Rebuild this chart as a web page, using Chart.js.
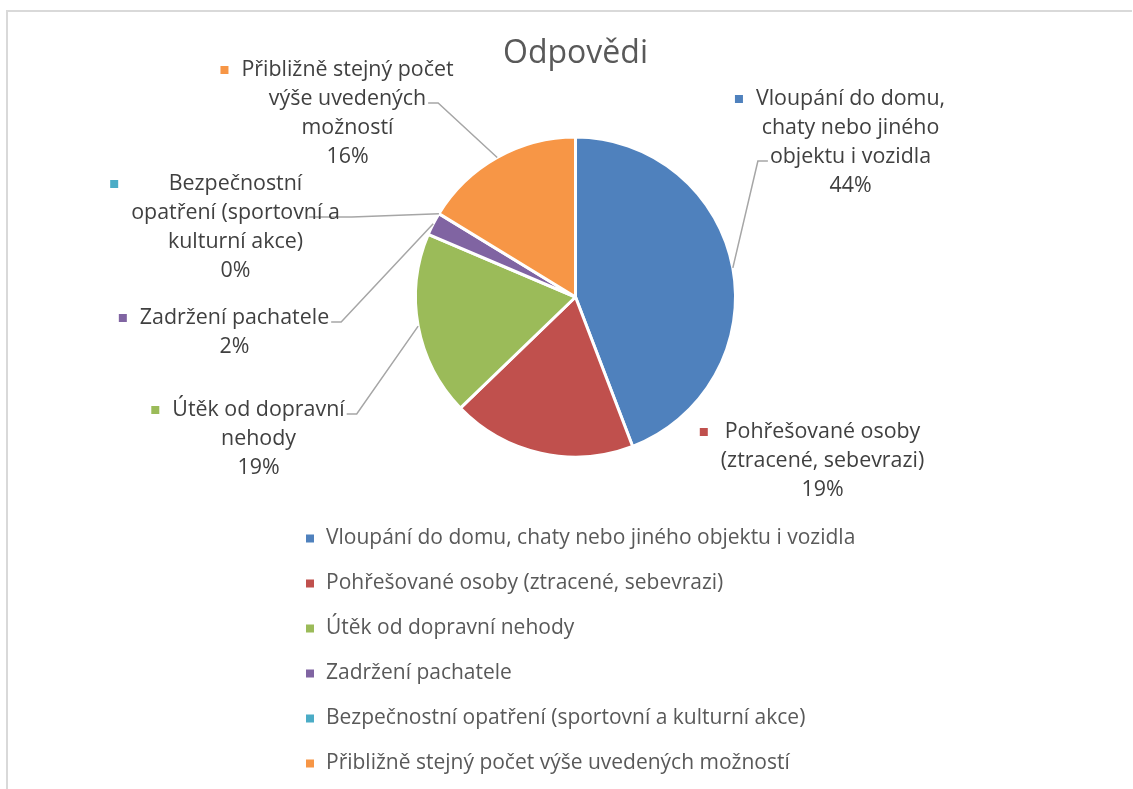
<!DOCTYPE html>
<html>
<head>
<meta charset="utf-8">
<script src="https://cdn.jsdelivr.net/npm/chart.js@4/dist/chart.umd.min.js"></script>
<style>
html,body{margin:0;padding:0;background:#fff;}
#wrap{position:relative;width:1133px;height:789px;overflow:hidden;}
#frame{position:absolute;left:6px;top:10px;width:1126px;height:790px;border-top:2px solid #d9d9d9;border-left:2px solid #d9d9d9;box-sizing:border-box;pointer-events:none;}
canvas{position:absolute;left:0;top:0;}
</style>
</head>
<body>
<div id="wrap">
<div id="frame"></div>
<canvas id="c" width="1133" height="789"></canvas>
</div>
<script>
const titleText = 'Odpovědi';
const categories = [
  'Vloupání do domu, chaty nebo jiného objektu i vozidla',
  'Pohřešované osoby (ztracené, sebevrazi)',
  'Útěk od dopravní nehody',
  'Zadržení pachatele',
  'Bezpečnostní opatření (sportovní a kulturní akce)',
  'Přibližně stejný počet výše uvedených možností'
];
const values = [19, 8, 8, 1, 0, 7];
const colors = ['#4F81BD', '#C0504D', '#9BBB59', '#8064A2', '#4BACC6', '#F79646'];
const labelLines = [
  ['Vloupání do domu,', 'chaty nebo jiného', 'objektu i vozidla'],
  ['Pohřešované osoby', '(ztracené, sebevrazi)'],
  ['Útěk od dopravní', 'nehody'],
  ['Zadržení pachatele'],
  ['Bezpečnostní', 'opatření (sportovní a', 'kulturní akce)'],
  ['Přibližně stejný počet', 'výše uvedených', 'možností']
];

const FONT = '"Open Sans"';
const LABEL_SIZE = 21.4;
const LEGEND_SIZE = 21;

// label placement (text-centre offset from pie centre, in px at radius 160) and leader settings
const labelPlacement = [
  {dx: 275, dy: -198, leader: {line: 2, side: 'left'}},
  {dx: 247, dy: 135, leader: null},
  {dx: -317, dy: 113, leader: {line: 0, side: 'right'}},
  {dx: -341, dy: 21, leader: {line: 0, side: 'right'}},
  {dx: -340, dy: -113, leader: {line: 1, side: 'right', inset: 33}},
  {dx: -228, dy: -227, leader: {line: 1, side: 'right'}}
];

const outsideLabels = {
  id: 'outsideLabels',
  afterDatasetsDraw(chart) {
    const ctx = chart.ctx;
    const meta = chart.getDatasetMeta(0);
    const data = chart.data.datasets[0].data;
    const total = data.reduce((a, b) => a + b, 0);
    const lineH = 29;
    ctx.save();
    ctx.font = LABEL_SIZE + 'px ' + FONT;
    ctx.textBaseline = 'middle';
    ctx.textAlign = 'center';
    meta.data.forEach((arc, i) => {
      const p = arc.getProps(['x', 'y', 'startAngle', 'endAngle', 'outerRadius'], true);
      const s = p.outerRadius / 160;
      const place = labelPlacement[i];
      const cx = p.x + place.dx * s;
      const y0 = p.y + place.dy * s;
      const lines = labelLines[i].concat([Math.round(data[i] / total * 100) + '%']);
      const widths = lines.map(l => ctx.measureText(l).width);
      const maxW = Math.max.apply(null, widths);
      if (place.leader) {
        const mid = (p.startAngle + p.endAngle) / 2;
        const r = p.outerRadius;
        const sx = p.x + Math.cos(mid) * r;
        const sy = p.y + Math.sin(mid) * r;
        const k = place.leader.line;
        const ly = y0 + k * lineH + 4;
        const dir = place.leader.side === 'right' ? 1 : -1;
        const inset = place.leader.inset || 0;
        const ex = cx + dir * (widths[k] / 2 + 2 - inset);
        const bx = cx + dir * (widths[k] / 2 + 12);
        ctx.beginPath();
        ctx.moveTo(sx, sy);
        ctx.lineTo(bx, ly);
        ctx.lineTo(ex, ly);
        ctx.strokeStyle = '#A6A6A6';
        ctx.lineWidth = 1.5;
        ctx.stroke();
      }
      ctx.fillStyle = colors[i];
      ctx.fillRect(cx - maxW / 2 - 13 - 8, y0 - 4, 8, 8);
      ctx.fillStyle = '#404040';
      lines.forEach((l, j) => ctx.fillText(l, cx, y0 + j * lineH));
    });
    ctx.restore();
  }
};

const listLegend = {
  id: 'listLegend',
  afterDraw(chart) {
    const ctx = chart.ctx;
    const area = chart.chartArea;
    ctx.save();
    ctx.font = LEGEND_SIZE + 'px ' + FONT;
    ctx.textBaseline = 'middle';
    ctx.textAlign = 'left';
    chart.data.labels.forEach((lab, i) => {
      const y = area.bottom + 80 + i * 45;
      ctx.fillStyle = colors[i];
      ctx.fillRect(306, y - 4, 8, 8);
      ctx.fillStyle = '#595959';
      ctx.fillText(lab, 326, y);
    });
    ctx.restore();
  }
};

new Chart(document.getElementById('c'), {
  type: 'pie',
  data: {
    labels: categories,
    datasets: [{
      data: values,
      backgroundColor: colors,
      borderColor: '#ffffff',
      borderWidth: 3,
      hoverOffset: 0
    }]
  },
  options: {
    responsive: false,
    animation: false,
    events: [],
    layout: {padding: {left: 414, right: 396, top: 35, bottom: 330.5}},
    plugins: {
      legend: {display: false},
      tooltip: {enabled: false},
      title: {
        display: true,
        text: titleText,
        color: '#595959',
        font: {family: 'Open Sans', size: 32, weight: 'normal', lineHeight: 1.2},
        padding: {top: 0, bottom: 62.1}
      }
    }
  },
  plugins: [outsideLabels, listLegend]
});
</script>
</body>
</html>
